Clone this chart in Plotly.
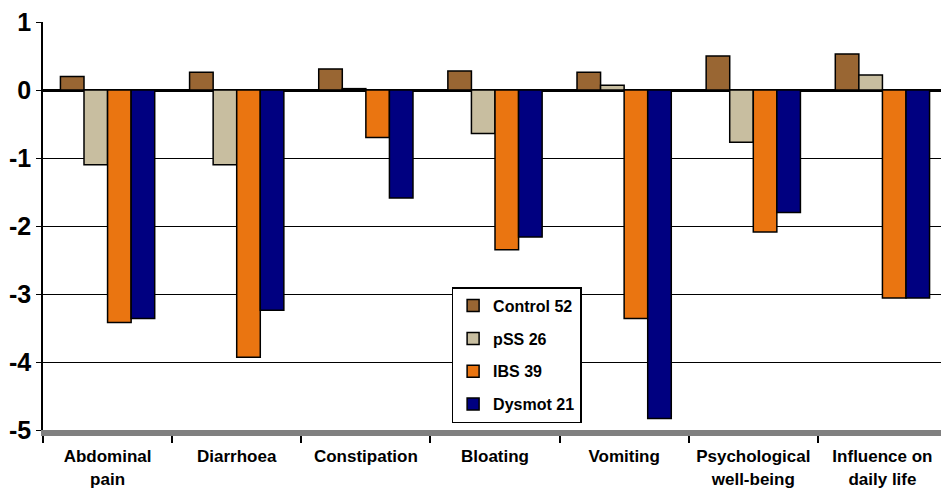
import plotly.graph_objects as go

categories = ["Abdominal<br>pain", "Diarrhoea", "Constipation", "Bloating", "Vomiting",
              "Psychological<br>well-being", "Influence on<br>daily life"]
control = [0.20, 0.26, 0.31, 0.28, 0.26, 0.50, 0.53]
pss = [-1.10, -1.10, 0.02, -0.64, 0.07, -0.77, 0.22]
ibs = [-3.42, -3.93, -0.70, -2.35, -3.36, -2.09, -3.06]
dysmot = [-3.36, -3.24, -1.59, -2.16, -4.83, -1.80, -3.06]
series_names = ["Control 52", "pSS 26", "IBS 39", "Dysmot 21"]
colors = ["#996633", "#C8BEA0", "#EA7511", "#000080"]
ytick_vals = [1, 0, -1, -2, -3, -4, -5]
ytick_text = ["1", "0", "-1", "-2", "-3", "-4", "-5"]

fig = go.Figure()
for name, vals, col in zip(series_names, [control, pss, ibs, dysmot], colors):
    fig.add_trace(go.Bar(
        x=categories, y=vals, name=name, legendgroup=name,
        marker=dict(color=col, line=dict(color="black", width=1.5)),
    ))

font_fam = "Liberation Sans, Arial, sans-serif"
fig.update_layout(
    width=941, height=483,
    margin=dict(l=35, r=2, t=14, b=61),
    paper_bgcolor="white", plot_bgcolor="white",
    barmode="group", bargap=0.27, bargroupgap=0,
    showlegend=True,
    legend=dict(
        x=0.452, y=0.35, xanchor="left", yanchor="top",
        bgcolor="white", bordercolor="black", borderwidth=1.5,
        font=dict(family=font_fam, size=16, color="black", weight="bold"),
        tracegroupgap=9, itemwidth=30,
    ),
    xaxis=dict(
        automargin=False,
        showgrid=False, ticks="outside", tickson="boundaries", ticklen=7,
        tickcolor="black", tickwidth=1.5,
        showline=True, linecolor="#808080", linewidth=6,
        ticklabelstandoff=6,
        tickfont=dict(family=font_fam, size=17, color="black", weight="bold"),
    ),
    yaxis=dict(
        automargin=False, ticklabeloverflow="allow",
        range=[-5, 1], tickvals=ytick_vals, ticktext=ytick_text,
        showgrid=True, gridcolor="black", gridwidth=1,
        zeroline=True, zerolinecolor="black", zerolinewidth=3,
        showline=True, linecolor="black", linewidth=1.5, mirror=True,
        ticks="outside", ticklen=5, tickcolor="black",
        tickfont=dict(family=font_fam, size=25, color="black", weight="bold"),
    ),
)
fig.write_html("out.html")
